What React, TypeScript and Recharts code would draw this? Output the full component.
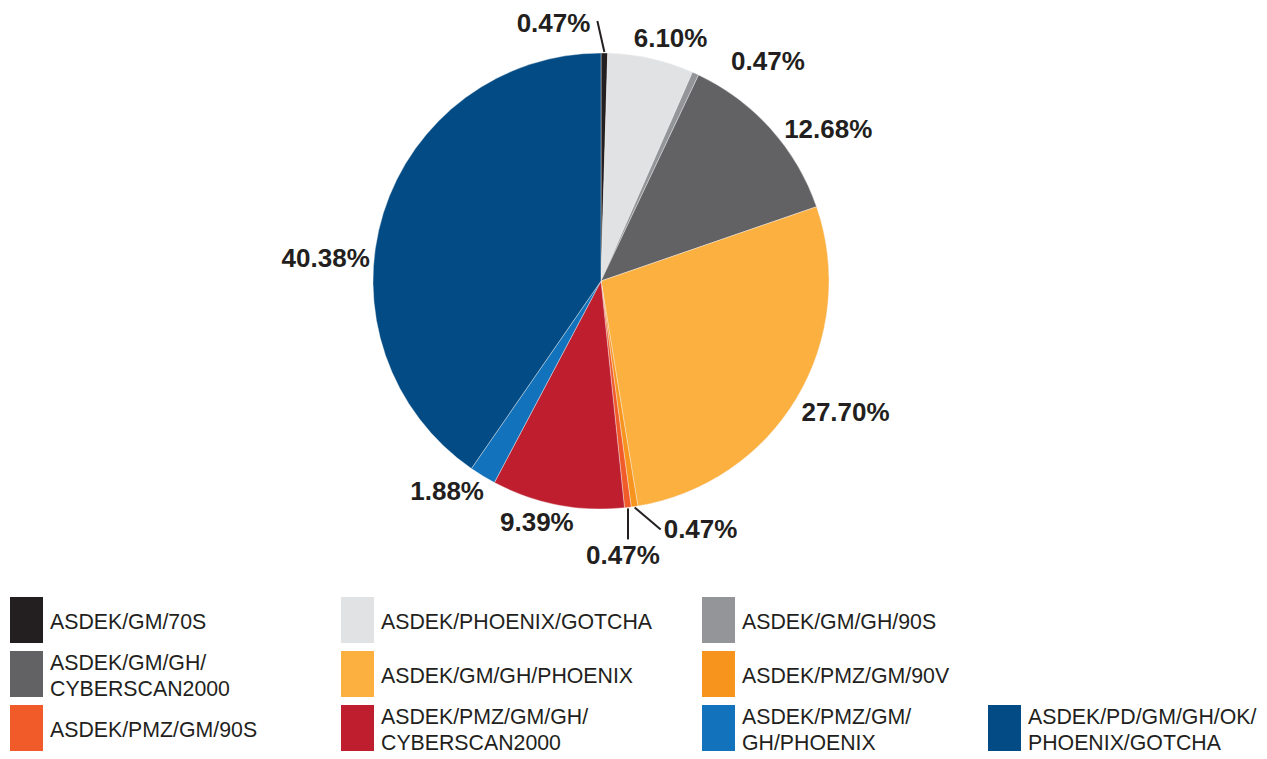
import React from 'react';
import { PieChart, Pie, Cell } from 'recharts';

const categories = [
  'ASDEK/GM/70S',
  'ASDEK/PHOENIX/GOTCHA',
  'ASDEK/GM/GH/90S',
  'ASDEK/GM/GH/\nCYBERSCAN2000',
  'ASDEK/GM/GH/PHOENIX',
  'ASDEK/PMZ/GM/90V',
  'ASDEK/PMZ/GM/90S',
  'ASDEK/PMZ/GM/GH/\nCYBERSCAN2000',
  'ASDEK/PMZ/GM/\nGH/PHOENIX',
  'ASDEK/PD/GM/GH/OK/\nPHOENIX/GOTCHA',
];
const shares = [0.47, 6.1, 0.47, 12.68, 27.7, 0.47, 0.47, 9.39, 1.88, 40.38];
const colors = ['#231f20', '#e1e2e4', '#939598', '#626264', '#fbb040', '#f7941d', '#f15a29', '#be1e2d', '#1272bc', '#034b84'];

const data = categories.map((name, i) => ({ name, value: shares[i] }));

const FONT = '"Liberation Sans", Arial, sans-serif';
const TEXT = '#231f20';
const RAD = Math.PI / 180;

// label tweaks, relative to the default spot outside the slice
const labelNudge: Record<number, [number, number]> = {
  1: [13, 9],
  2: [60, 15],
  3: [35, 20],
  4: [23, -1],
  7: [-15, -12],
  8: [-20, -11],
  9: [-29, 54],
};
// tiny slices get a leader line
const leaders: Record<number, { d: [number, number]; t: [number, number]; anchor: 'start' | 'end' | 'middle' }> = {
  0: { d: [-7, -31], t: [-7, 2], anchor: 'end' },
  5: { d: [26, 22], t: [3, -1], anchor: 'start' },
  6: { d: [0, 31], t: [-5, 16], anchor: 'middle' },
};

function renderLabel(props: any) {
  const { cx, cy, midAngle, outerRadius, index, value } = props;
  const text = `${Number(value).toFixed(2)}%`;
  const cos = Math.cos(-midAngle * RAD);
  const sin = Math.sin(-midAngle * RAD);
  const style = { fontFamily: FONT, fontWeight: 700, fontSize: 26, fill: TEXT };
  const lead = leaders[index];
  if (lead) {
    const x1 = cx + (outerRadius + 1) * cos;
    const y1 = cy + (outerRadius + 1) * sin;
    const x2 = x1 + lead.d[0];
    const y2 = y1 + lead.d[1];
    return <g key={`l-${index}`}>
        <line x1={x1} y1={y1} x2={x2} y2={y2} stroke={TEXT} strokeWidth={2} />
        <text x={x2 + lead.t[0]} y={y2 + lead.t[1]} textAnchor={lead.anchor} dominantBaseline="central" style={style}>
          {text}
        </text>
      </g>;
  }
  const r = outerRadius + 30;
  const [dx, dy] = labelNudge[index] || [0, 0];
  return <text key={`l-${index}`} x={cx + r * cos + dx} y={cy + r * sin + dy} textAnchor="middle" dominantBaseline="central" style={style}>
      {text}
    </text>;
}

const colX = [10, 341, 702, 988];
const rowY = [597, 651, 705];
const slots: [number, number][] = [[0, 0], [0, 1], [0, 2], [1, 0], [1, 1], [1, 2], [2, 0], [2, 1], [2, 2], [2, 3]];

export default function App() {
  return <div style={{ position: 'absolute', left: 0, top: 0, width: 1267, height: 759, background: '#fff', fontFamily: FONT }}>
      <PieChart width={1267} height={590} margin={{ top: 0, right: 0, bottom: 0, left: 0 }}>
        <Pie data={data} dataKey="value" nameKey="name" cx={601} cy={281} outerRadius={228} startAngle={90} endAngle={-270} stroke="#f4f4f4" strokeWidth={0.4} label={renderLabel} labelLine={false} isAnimationActive={false}>
          {data.map((d, i) => <Cell key={d.name} fill={colors[i]} />)}
        </Pie>
      </PieChart>
      {categories.map((name, i) => {
      const [row, col] = slots[i];
      return <div key={name} style={{ position: 'absolute', left: colX[col], top: rowY[row], height: 46, display: 'flex', alignItems: 'center' }}>
            <div style={{ width: 33, height: 46, background: colors[i] }} />
            <div style={{ marginLeft: 7, marginTop: 3, fontSize: 21.3, lineHeight: '26px', color: TEXT, whiteSpace: 'pre-line' }}>{name}</div>
          </div>;
    })}
    </div>;
}
